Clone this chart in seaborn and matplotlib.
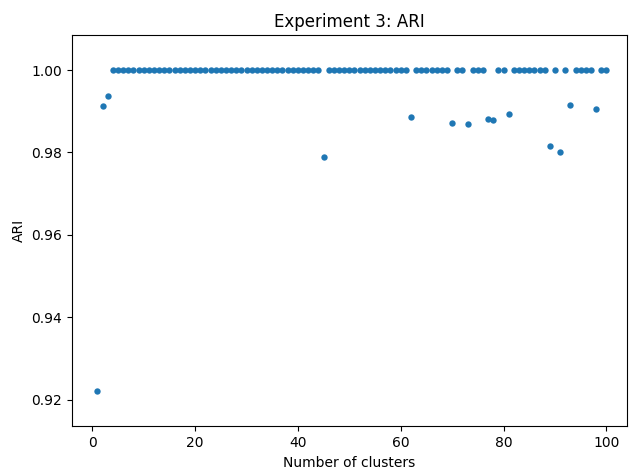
import matplotlib
matplotlib.use("Agg")
import matplotlib.pyplot as plt
import seaborn as sns
import pandas as pd

n_clusters = [1, 2, 3, 4, 5, 6, 7, 8, 9, 10,
              11, 12, 13, 14, 15, 16, 17, 18, 19, 20,
              21, 22, 23, 24, 25, 26, 27, 28, 29, 30,
              31, 32, 33, 34, 35, 36, 37, 38, 39, 40,
              41, 42, 43, 44, 45, 46, 47, 48, 49, 50,
              51, 52, 53, 54, 55, 56, 57, 58, 59, 60,
              61, 62, 63, 64, 65, 66, 67, 68, 69, 70,
              71, 72, 73, 74, 75, 76, 77, 78, 79, 80,
              81, 82, 83, 84, 85, 86, 87, 88, 89, 90,
              91, 92, 93, 94, 95, 96, 97, 98, 99, 100]

ari = [0.922, 0.9913, 0.9938, 1.0, 1.0, 1.0, 1.0, 1.0, 1.0, 1.0,
       1.0, 1.0, 1.0, 1.0, 1.0, 1.0, 1.0, 1.0, 1.0, 1.0,
       1.0, 1.0, 1.0, 1.0, 1.0, 1.0, 1.0, 1.0, 1.0, 1.0,
       1.0, 1.0, 1.0, 1.0, 1.0, 1.0, 1.0, 1.0, 1.0, 1.0,
       1.0, 1.0, 1.0, 1.0, 0.979, 1.0, 1.0, 1.0, 1.0, 1.0,
       1.0, 1.0, 1.0, 1.0, 1.0, 1.0, 1.0, 1.0, 1.0, 1.0,
       1.0, 0.9886, 1.0, 1.0, 1.0, 1.0, 1.0, 1.0, 1.0, 0.9871,
       1.0, 1.0, 0.9869, 1.0, 1.0, 1.0, 0.9881, 0.9878, 1.0, 1.0,
       0.9893, 1.0, 1.0, 1.0, 1.0, 1.0, 1.0, 1.0, 0.9815, 1.0,
       0.9802, 1.0, 0.9915, 1.0, 1.0, 1.0, 1.0, 0.9906, 1.0, 1.0]

title = "Experiment 3: ARI"
xlabel = "Number of clusters"
ylabel = "ARI"

df = pd.DataFrame({"k": n_clusters, "ari": ari})

fig = plt.figure(figsize=(6.3, 4.7), dpi=100)
ax = fig.add_axes([0.1138, 0.0926, 0.9952 - 0.1138, 0.9255 - 0.0926])
sns.scatterplot(data=df, x="k", y="ari", ax=ax, color="#1f77b4", s=21, linewidth=0)
ax.set_xlim(-4.0, 104.0)
ax.set_ylim(0.9135, 1.0085)
ax.set_xticks([0, 20, 40, 60, 80, 100])
ax.set_yticks([0.92, 0.94, 0.96, 0.98, 1.00])
ax.set_yticklabels(["0.92", "0.94", "0.96", "0.98", "1.00"])
ax.set_title(title, fontsize=12)
ax.set_xlabel(xlabel, fontsize=10)
ax.set_ylabel(ylabel, fontsize=10)
fig.savefig("out.png", dpi=100)
